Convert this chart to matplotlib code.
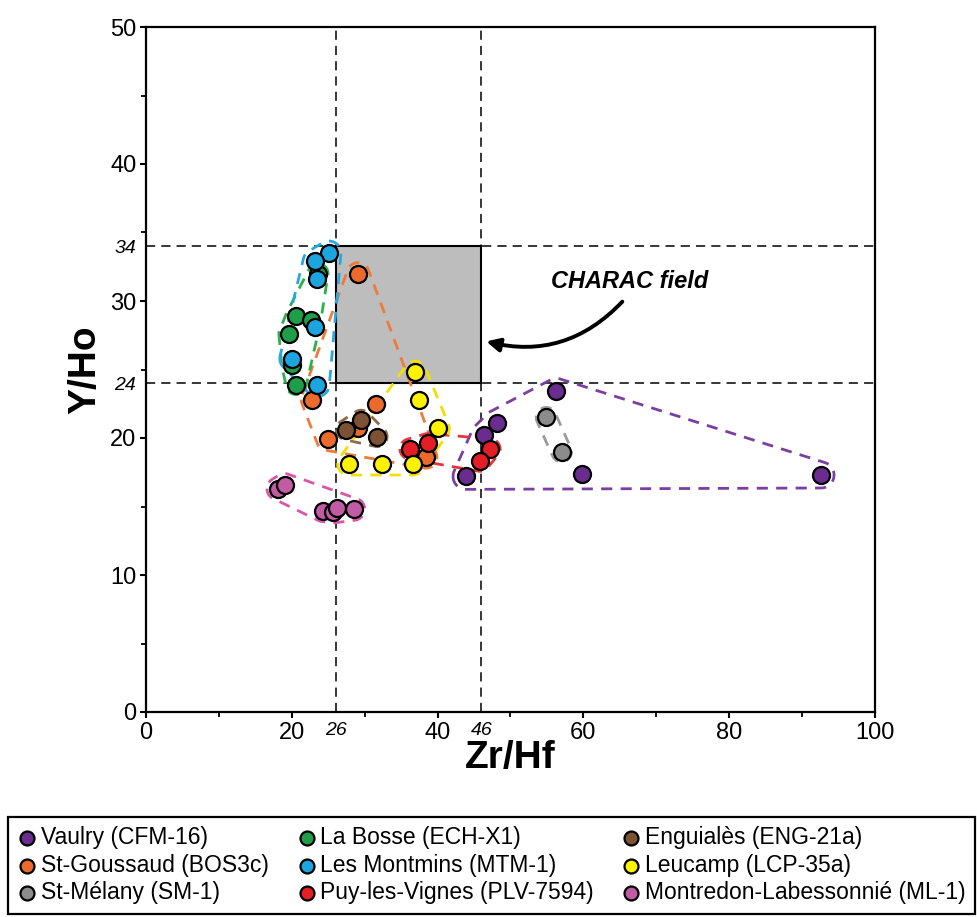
import numpy as np
import matplotlib
matplotlib.use("Agg")
import matplotlib.pyplot as plt
from matplotlib.patches import Rectangle

plt.rcParams["font.family"] = ["Liberation Sans", "DejaVu Sans"]

# ---- data ----
GROUPS = ["Vaulry (CFM-16)", "St-Goussaud (BOS3c)", "St-Mélany (SM-1)",
          "La Bosse (ECH-X1)", "Les Montmins (MTM-1)", "Puy-les-Vignes (PLV-7594)",
          "Enguialès (ENG-21a)", "Leucamp (LCP-35a)", "Montredon-Labessonnié (ML-1)"]

vaulry_x = [56.3, 48.1, 46.4, 43.9, 59.8, 92.6]
vaulry_y = [23.4, 21.1, 20.2, 17.2, 17.4, 17.3]
goussaud_x = [29.1, 22.8, 31.5, 24.9, 29.1, 38.4]
goussaud_y = [32.0, 22.8, 22.5, 19.9, 20.7, 18.6]
melany_x = [54.9, 57.0]
melany_y = [21.5, 19.0]
bosse_x = [23.6, 20.6, 22.6, 19.6, 20.0, 20.6]
bosse_y = [32.0, 28.9, 28.6, 27.6, 25.3, 23.9]
montmins_x = [25.1, 23.2, 23.4, 23.2, 20.0, 23.5]
montmins_y = [33.5, 32.9, 31.6, 28.1, 25.8, 23.9]
puy_x = [36.2, 38.7, 47.2, 45.8]
puy_y = [19.2, 19.6, 19.2, 18.3]
enguiales_x = [29.5, 27.5, 31.7]
enguiales_y = [21.3, 20.6, 20.1]
leucamp_x = [36.9, 37.4, 40.1, 27.8, 32.4, 36.6]
leucamp_y = [24.8, 22.8, 20.7, 18.1, 18.1, 18.1]
montredon_x = [18.1, 19.0, 24.3, 25.6, 26.2, 28.5]
montredon_y = [16.3, 16.6, 14.7, 14.6, 14.9, 14.8]

XS = [vaulry_x, goussaud_x, melany_x, bosse_x, montmins_x, puy_x,
      enguiales_x, leucamp_x, montredon_x]
YS = [vaulry_y, goussaud_y, melany_y, bosse_y, montmins_y, puy_y,
      enguiales_y, leucamp_y, montredon_y]

FILL = ["#6A2C8E", "#EC6A2C", "#8C8C8C", "#1E9E48", "#1DA5E0", "#E31E26",
        "#7D5234", "#FFF200", "#C05BA4"]
ENV = ["#7B3FA0", "#EE7B3A", "#9A9A9A", "#2DB04B", "#29A8E0", "#E8333A",
       "#8C6A4A", "#F2E000", "#D957A8"]
ENV_PAD = [13, 11, 10, 10, 12, 10, 10, 11, 11]

# CHARAC field limits
ZRHF_LIM = (26, 46)
YHO_LIM = (24, 34)


def convex_hull(pts):
    pts = sorted(map(tuple, pts))
    if len(pts) <= 2:
        return pts

    def cross(o, a, b):
        return (a[0] - o[0]) * (b[1] - o[1]) - (a[1] - o[1]) * (b[0] - o[0])

    lower, upper = [], []
    for p in pts:
        while len(lower) >= 2 and cross(lower[-2], lower[-1], p) <= 0:
            lower.pop()
        lower.append(p)
    for p in reversed(pts):
        while len(upper) >= 2 and cross(upper[-2], upper[-1], p) <= 0:
            upper.pop()
        upper.append(p)
    return lower[:-1] + upper[:-1]


def envelope(ax, xs, ys, pad_px):
    """Rounded hull around the points, built in pixel space."""
    disp = ax.transData.transform(np.column_stack([xs, ys]))
    t = np.linspace(0, 2 * np.pi, 48, endpoint=False)
    ring = np.column_stack([np.cos(t), np.sin(t)]) * pad_px
    cloud = np.vstack([p + ring for p in disp])
    hull = np.array(convex_hull(cloud))
    hull = np.vstack([hull, hull[:1]])
    return ax.transData.inverted().transform(hull)


fig = plt.figure(figsize=(9.78, 9.17), dpi=100)
ax = fig.add_axes([146 / 978, 1 - 712 / 917, 729 / 978, 685 / 917])
ax.set_xlim(0, 100)
ax.set_ylim(0, 50)

# reference lines + field
for v in ZRHF_LIM:
    ax.axvline(v, color="black", lw=1.1, ls=(0, (6, 4)), zorder=1)
for v in YHO_LIM:
    ax.axhline(v, color="black", lw=1.1, ls=(0, (6, 4)), zorder=1)
ax.add_patch(Rectangle((ZRHF_LIM[0], YHO_LIM[0]), ZRHF_LIM[1] - ZRHF_LIM[0],
                       YHO_LIM[1] - YHO_LIM[0], facecolor="#BDBDBD",
                       edgecolor="black", lw=1.5, zorder=2))

for xs, ys, fc, ec, pad, lab in zip(XS, YS, FILL, ENV, ENV_PAD, GROUPS):
    out = envelope(ax, xs, ys, pad)
    ax.plot(out[:, 0], out[:, 1], color=ec, lw=2.0, ls=(0, (4, 3)), zorder=3)
    ax.scatter(xs, ys, s=150, c=fc, edgecolors="black", linewidths=1.6,
               zorder=4, label=lab)

ax.text(66.3, 31.4, "CHARAC field", fontsize=17, fontweight="bold",
        fontstyle="italic", ha="center", va="center")
ax.annotate("", xy=(46.3, 27.1), xytext=(65.6, 30.1),
            arrowprops=dict(arrowstyle="-|>,head_length=0.8,head_width=0.4",
                            color="black", lw=2.8,
                            connectionstyle="arc3,rad=-0.3"))

# ticks
xt = [0, 20, 26, 40, 46, 60, 80, 100]
yt = [0, 10, 20, 24, 30, 34, 40, 50]
ax.set_xticks(xt)
ax.set_xticklabels([str(v) for v in xt])
ax.set_yticks(yt)
ax.set_yticklabels([str(v) for v in yt])
ax.set_xticks([10, 30, 50, 70, 90], minor=True)
ax.set_yticks([5, 15, 25, 35, 45], minor=True)
ax.tick_params(which="major", direction="out", length=4, width=1.5,
               labelsize=17, pad=3)
ax.tick_params(which="minor", direction="out", length=3.5, width=1.3)

for tick, v in zip(ax.xaxis.get_major_ticks(), xt):
    if v in ZRHF_LIM:
        tick.tick1line.set_visible(False)
        tick.label1.set_fontstyle("italic")
        tick.label1.set_fontsize(14)
for tick, v in zip(ax.yaxis.get_major_ticks(), yt):
    if v in YHO_LIM:
        tick.tick1line.set_visible(False)
        tick.label1.set_fontstyle("italic")
        tick.label1.set_fontsize(14)

for sp in ax.spines.values():
    sp.set_linewidth(1.6)

ax.set_xlabel("Zr/Hf", fontsize=28, fontweight="bold", labelpad=-3)
ax.set_ylabel("Y/Ho", fontsize=28, fontweight="bold", labelpad=5)

leg = fig.legend(loc="upper left",
                 bbox_to_anchor=(8 / 978, 1 - 817 / 917, 967 / 978, 0.0),
                 mode="expand", ncol=3, frameon=True, fancybox=False,
                 edgecolor="black", framealpha=1, borderpad=0.4,
                 columnspacing=0.4, handletextpad=0.15, handlelength=0.9,
                 labelspacing=0.2, borderaxespad=0, markerscale=0.82,
                 prop={"size": 16.5})
leg.get_frame().set_linewidth(1.6)

fig.savefig("out.png", dpi=100)
